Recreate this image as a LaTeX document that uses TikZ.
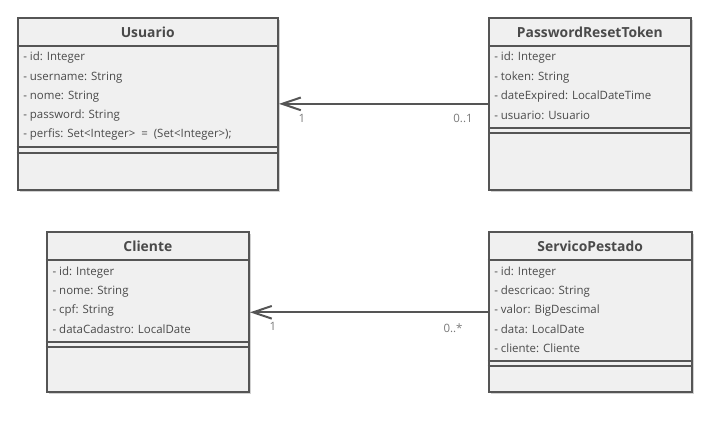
\documentclass[tikz,border=0pt]{standalone}
\usepackage{fontspec}
\setmainfont{Open Sans}
\usetikzlibrary{fit,arrows.meta,shadows}

\definecolor{umlline}{HTML}{555555}
\definecolor{umlfill}{HTML}{F0F0F0}
\definecolor{umltext}{HTML}{4A4A4A}
\definecolor{umlmult}{HTML}{7A7A7A}

\begin{document}
\begin{tikzpicture}[x=0.75pt, y=-0.75pt,
    classbox/.style={draw=umlline, fill=umlfill, line width=1.5pt, inner sep=0pt,
        drop shadow={shadow xshift=1.5pt, shadow yshift=-1.5pt, opacity=0.18, fill=black}},
    title/.style={font=\bfseries\fontsize{10.4}{12}\selectfont, text=umltext},
    attr/.style={anchor=west, inner sep=0pt, font=\fontsize{8.6}{10}\selectfont, text=umltext},
    mult/.style={inner sep=0pt, font=\fontsize{8.6}{10}\selectfont, text=umlmult},
    sep/.style={umlline, line width=1.5pt},
    assoc/.style={umlline, line width=1.5pt, -{Straight Barb[length=14pt, width=9.5pt, line width=1.5pt]}}]

    \useasboundingbox (0,0) rectangle (711,433);

    % Usuario
    \node[classbox, fit={(17.5,17.7) (278,190)}] (usuario) {};
    \node[title] (usuario-name) at (usuario.north |- 0,32) {Usuario};
    \draw[sep] (usuario.west |- 0,45.7) -- (usuario.east |- 0,45.7);
    \node[attr] (usuario-id) at (23,58) {- id: Integer};
    \node[attr] (usuario-username) at (23,77.2) {- username: String};
    \node[attr] (usuario-nome) at (23,96.4) {- nome: String};
    \node[attr] (usuario-password) at (23,115.6) {- password: String};
    \node[attr] (usuario-perfis) at (23,134.8) {- perfis: Set<Integer> \ = \ (Set<Integer>);};
    \draw[sep] (usuario.west |- 0,146.7) -- (usuario.east |- 0,146.7);
    \draw[sep] (usuario.west |- 0,152.7) -- (usuario.east |- 0,152.7);

    % PasswordResetToken
    \node[classbox, fit={(489,17.7) (690.7,190)}] (token) {};
    \node[title] (token-name) at (token.north |- 0,32) {PasswordResetToken};
    \draw[sep] (token.west |- 0,45.7) -- (token.east |- 0,45.7);
    \node[attr] (token-id) at (494,58) {- id: Integer};
    \node[attr] (token-token) at (494,77.2) {- token: String};
    \node[attr] (token-date) at (494,96.4) {- dateExpired: LocalDateTime};
    \node[attr] (token-usuario) at (494,115.6) {- usuario: Usuario};
    \draw[sep] (token.west |- 0,127.7) -- (token.east |- 0,127.7);
    \draw[sep] (token.west |- 0,133.3) -- (token.east |- 0,133.3);

    % Cliente
    \node[classbox, fit={(46.7,232.3) (249,392.3)}] (cliente) {};
    \node[title] (cliente-name) at (cliente.north |- 0,246) {Cliente};
    \draw[sep] (cliente.west |- 0,260) -- (cliente.east |- 0,260);
    \node[attr] (cliente-id) at (52.3,272.3) {- id: Integer};
    \node[attr] (cliente-nome) at (52.3,291.3) {- nome: String};
    \node[attr] (cliente-cpf) at (52.3,310.2) {- cpf: String};
    \node[attr] (cliente-data) at (52.3,329.1) {- dataCadastro: LocalDate};
    \draw[sep] (cliente.west |- 0,341.7) -- (cliente.east |- 0,341.7);
    \draw[sep] (cliente.west |- 0,347.3) -- (cliente.east |- 0,347.3);

    % ServicoPestado
    \node[classbox, fit={(488.7,232.3) (691.7,392.3)}] (servico) {};
    \node[title] (servico-name) at (servico.north |- 0,246) {ServicoPestado};
    \draw[sep] (servico.west |- 0,260) -- (servico.east |- 0,260);
    \node[attr] (servico-id) at (494,272.3) {- id: Integer};
    \node[attr] (servico-descricao) at (494,291.3) {- descricao: String};
    \node[attr] (servico-valor) at (494,310.2) {- valor: BigDescimal};
    \node[attr] (servico-data) at (494,329.1) {- data: LocalDate};
    \node[attr] (servico-cliente) at (494,348) {- cliente: Cliente};
    \draw[sep] (servico.west |- 0,360.7) -- (servico.east |- 0,360.7);
    \draw[sep] (servico.west |- 0,366) -- (servico.east |- 0,366);

    % associations
    \draw[assoc] (token) -- (usuario);
    \node[mult] (usuario-mult) at (302,118) {1};
    \node[mult] (token-mult) at (463,118) {0..1};

    \draw[assoc] (servico) -- (cliente);
    \node[mult] (cliente-mult) at (273,326.7) {1};
    \node[mult] (servico-mult) at (453,328.3) {0..*};
\end{tikzpicture}
\end{document}
